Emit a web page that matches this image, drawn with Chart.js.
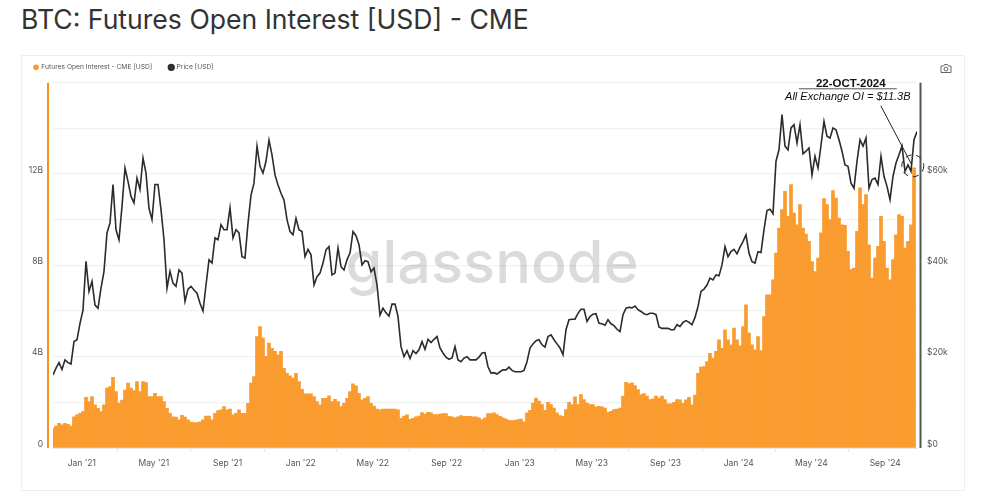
<!DOCTYPE html>
<html>
<head>
<meta charset="utf-8">
<title>BTC: Futures Open Interest [USD] - CME</title>
<script src="https://cdn.jsdelivr.net/npm/chart.js@4/dist/chart.umd.js"></script>
<style>
    html, body { margin: 0; padding: 0; background: #fff; }
    #page { position: relative; width: 984px; height: 500px; overflow: hidden; }
    #title { position: absolute; left: 21px; top: 3px; font: 400 26.6px Inter, sans-serif; color: #333; white-space: nowrap; }
    #card { position: absolute; left: 21px; top: 55px; width: 942px; height: 434px; border: 1px solid #eee; }
    #chart { position: absolute; left: 0; top: 0; }
    #camera { position: absolute; left: 940px; top: 63px; }
</style>
</head>
<body>
<div id="page">
    <div id="title">BTC: Futures Open Interest [USD] - CME</div>
    <div id="card"></div>
    <canvas id="chart" width="984" height="500"></canvas>
    <svg id="camera" width="12" height="11" viewBox="0 0 12 11" fill="none" stroke="#666" stroke-width="1">
        <path d="M1 3h2.5l1-1.5h3l1 1.5H11v6.5H1z"/>
        <circle cx="6" cy="6" r="2"/>
    </svg>
</div>
<script>
// one reading every 5 days, first one mid Nov 2020
const STEP_DAYS = 5;

// futures open interest, $B
const oiValues = [
    0.86, 0.96, 1.08, 1.01, 1.08, 1.04, 0.96, 1.37, 1.45, 1.52, 1.59, 2.22, 2.03, 2.25, 1.89, 1.74, 1.59, 1.89, 2.62, 2.69,
    3.1, 2.47, 1.96, 2.1, 2.54, 2.84, 2.62, 2.51, 2.91, 2.47, 2.91, 2.87, 2.25, 2.25, 2.4, 2.25, 2.25, 2.03, 1.74, 1.52,
    1.37, 1.35, 1.23, 1.43, 1.35, 1.23, 1.13, 1.11, 1.11, 1.15, 1.23, 1.4, 1.4, 1.23, 1.52, 1.64, 1.67, 1.81, 1.67, 1.7,
    1.45, 1.52, 1.67, 1.52, 1.52, 1.96, 2.84, 3.13, 4.88, 5.32, 4.81, 4.01, 4.59, 4.37, 4.23, 4.08, 4.23, 3.49, 3.27, 3.16,
    3.06, 3.27, 2.91, 2.57, 2.37, 2.37, 2.37, 2.25, 2.03, 1.89, 2.18, 2.18, 2.28, 2.03, 2.13, 2.03, 1.81, 1.96, 2.18, 2.47,
    2.81, 2.72, 2.4, 2.11, 2.18, 2.25, 1.96, 1.84, 1.7, 1.67, 1.7, 1.7, 1.7, 1.7, 1.7, 1.67, 1.3, 1.4, 1.45, 1.26,
    1.3, 1.37, 1.4, 1.55, 1.49, 1.56, 1.54, 1.46, 1.46, 1.49, 1.51, 1.51, 1.39, 1.36, 1.32, 1.36, 1.42, 1.39, 1.39, 1.39,
    1.36, 1.36, 1.32, 1.24, 1.32, 1.51, 1.51, 1.54, 1.46, 1.39, 1.32, 1.27, 1.21, 1.2, 1.21, 1.24, 1.27, 1.15, 1.54, 1.65,
    1.97, 2.19, 2.05, 1.9, 1.65, 2, 1.9, 1.75, 1.54, 1.42, 1.39, 1.68, 2, 1.9, 2.24, 1.9, 2.34, 2.12, 1.97, 1.9,
    1.9, 1.8, 1.83, 1.8, 1.75, 1.56, 1.61, 1.68, 1.71, 1.75, 2.27, 2.88, 2.82, 2.85, 2.73, 2.56, 2.34, 2.38, 2.27, 2.12,
    2.15, 2.27, 2.19, 2.27, 2.12, 1.94, 1.94, 2, 2.12, 2.11, 1.96, 2.11, 2.22, 1.89, 2.32, 3.27, 3.54, 3.57, 3.79, 4.15,
    3.93, 4.23, 4.74, 4.37, 5.18, 4.74, 4.52, 5.25, 4.74, 4.47, 5.32, 6.27, 5.03, 4.52, 4.3, 4.88, 4.27, 5.76, 6.71, 6.71,
    7.37, 8.54, 9.63, 10.44, 11.24, 10.15, 11.54, 10.29, 9.78, 10.66, 9.63, 9.37, 9.05, 8.17, 7.73, 8.32, 9.42, 10.92, 10.66, 10,
    11.27, 10.95, 10.07, 9.78, 9.75, 8.61, 7.81, 7.88, 9.49, 11.39, 10.66, 11.1, 8.9, 7.44, 8.32, 8.83, 10.15, 9.05, 7.88, 7.37,
    8.25, 9.34, 10.22, 10.15, 8.76, 9.05, 9.78, 12.27
];

// BTC price, $k
const priceValues = [
    16, 17.5, 18.7, 17.2, 19.3, 18.7, 18.4, 23.3, 23.7, 27.3, 30.2, 40.9, 34.3, 36.5, 31.3, 30.6, 35, 38.7, 47.1, 49.3,
    57.7, 47.8, 45.6, 52.9, 61.3, 58.4, 55.1, 53.7, 59.1, 56.6, 63.5, 60.2, 52.5, 50, 57.7, 57.7, 52.2, 45.6, 35, 38.7,
    36.1, 35.4, 39, 38.3, 32.1, 34.8, 35.4, 34.6, 33.9, 31.7, 30, 35.7, 41.2, 40.5, 46, 45.6, 48.9, 47.8, 47.8, 52.6,
    46, 47.8, 47.1, 41.9, 41.6, 49.2, 55.4, 58, 66.1, 61.7, 60.2, 62.8, 67.4, 64.2, 59.8, 57.6, 55.8, 54.3, 50, 47.4,
    46.7, 50.3, 47.8, 47.4, 41.9, 43.5, 42.3, 35.7, 37.5, 38.3, 40.5, 43.4, 44.1, 37.9, 38.3, 43.8, 39.7, 39, 41.2, 42.7,
    47.4, 46.5, 44.5, 40.1, 41, 40.8, 38.6, 39.4, 35.7, 29.1, 30.6, 29.6, 28.9, 31.5, 31.5, 28.8, 22.2, 20, 21.3, 19.6,
    21.3, 20.7, 21.5, 23.3, 21.6, 23.8, 23.1, 23.8, 24.4, 21.9, 20.8, 19.9, 19.4, 19.7, 22.2, 19.3, 18.9, 19.7, 20, 19.3,
    19.3, 19.3, 19.9, 20.8, 20.9, 17.8, 16.4, 16.5, 16.2, 16.7, 17.1, 17.1, 17.7, 17, 16.7, 16.7, 16.7, 17, 18.9, 21.9,
    22.8, 23.5, 23.7, 22.6, 22.1, 24.4, 24.8, 23.7, 22.8, 21.9, 20.4, 25.9, 28.1, 28.2, 28.2, 29.5, 30.4, 30.4, 27.7, 28.8,
    29.3, 29.4, 27.3, 27.2, 26.9, 28.1, 27.2, 26.8, 26, 25.5, 29.2, 30.6, 30.8, 30.7, 31.1, 30.3, 29.9, 29.4, 29.2, 29.5,
    29.5, 29.2, 26.5, 26.2, 26.2, 26.2, 25.9, 25.9, 27, 26.6, 27.5, 27.9, 27.5, 27, 28.6, 31, 34.3, 34.8, 35.7, 37.2,
    36.8, 37.9, 37.7, 40.1, 44.1, 41.9, 43, 43.5, 42.5, 44, 45.2, 46.7, 42.7, 40.8, 40.5, 43, 42.8, 47.8, 52, 52.3,
    51.3, 62.8, 65.3, 73, 66.1, 65.3, 70.1, 70.8, 66.8, 70.8, 64.4, 65, 65.7, 59.8, 63.9, 61.3, 66.3, 71.5, 68.3, 67.9,
    70.1, 69.7, 67.5, 65, 62, 61.7, 58, 56.9, 62.8, 67.5, 66.1, 67.9, 56.9, 58.8, 59.1, 57.7, 63.9, 59.5, 57.3, 54.4,
    59.5, 62.4, 64.2, 66.1, 60.6, 62, 60.6, 67.5, 69.3
];

// axis labels, days counted from the first reading
const tickDays = [48, 168, 291, 413, 533, 656, 778, 898, 1021, 1143, 1264, 1387];
const tickLabels = ["Jan '21", "May '21", "Sep '21", "Jan '22", "May '22", "Sep '22", "Jan '23", "May '23", "Sep '23", "Jan '24", "May '24", "Sep '24"];

const oiTicks = [0, 4, 8, 12];
const priceTicks = [0, 20, 40, 60];

const toPoints = values => values.map((v, i) => ({ x: i * STEP_DAYS, y: v }));

const tickFont = { family: "Inter, sans-serif", size: 8.5 };

// watermark behind the series, axis rules and the callout over them
const decorations = {
    id: "decorations",
    beforeInit(chart) {
        // a bit more room under the legend
        const fit = chart.legend.fit;
        chart.legend.fit = function () {
            fit.call(this);
            this.height += 2;
        };
    },
    beforeDatasetsDraw(chart) {
        const { ctx, chartArea } = chart;
        ctx.save();
        ctx.font = "500 59.5px Inter, sans-serif";
        ctx.fillStyle = "rgba(0,0,0,0.14)";
        ctx.textAlign = "center";
        ctx.textBaseline = "alphabetic";
        ctx.fillText("glassnode", 492, 283);
        ctx.lineWidth = 2;
        ctx.strokeStyle = "#f7931a";
        ctx.beginPath();
        ctx.moveTo(chartArea.left - 5, chartArea.top);
        ctx.lineTo(chartArea.left - 5, chartArea.bottom);
        ctx.stroke();
        ctx.strokeStyle = "#555";
        ctx.beginPath();
        ctx.moveTo(chartArea.right + 3.5, chartArea.top);
        ctx.lineTo(chartArea.right + 3.5, chartArea.bottom);
        ctx.stroke();
        ctx.restore();
    },
    afterDatasetsDraw(chart) {
        const { ctx, scales } = chart;
        const cx = scales.x.getPixelForValue(1433);
        const cy = scales.yPrice.getPixelForValue(61.8);
        ctx.save();
        ctx.strokeStyle = "#222";
        ctx.lineWidth = 1;
        ctx.setLineDash([6, 5]);
        ctx.beginPath();
        ctx.arc(cx, cy, 11, 0, Math.PI * 2);
        ctx.stroke();
        ctx.setLineDash([]);
        ctx.beginPath();
        ctx.moveTo(cx - 32, cy - 60);
        ctx.lineTo(cx - 1, cy - 1);
        ctx.stroke();
        ctx.strokeStyle = "#555";
        ctx.beginPath();
        ctx.moveTo(cx - 114, cy - 77);
        ctx.lineTo(cx - 16, cy - 77);
        ctx.stroke();
        ctx.fillStyle = "#111";
        ctx.textAlign = "center";
        ctx.textBaseline = "middle";
        ctx.font = "bold 11.5px 'Liberation Sans', sans-serif";
        ctx.fillText("22-OCT-2024", cx - 62, cy - 82);
        ctx.font = "italic 11px 'Liberation Sans', sans-serif";
        ctx.fillText("All Exchange OI = $11.3B", cx - 65, cy - 69);
        ctx.restore();
    }
};

new Chart(document.getElementById("chart"), {
    type: "bar",
    data: {
        datasets: [
            {
                label: "Futures Open Interest - CME [USD]",
                data: toPoints(oiValues),
                yAxisID: "yOi",
                backgroundColor: "#f99b2d",
                borderWidth: 0,
                barPercentage: 1,
                categoryPercentage: 1,
                pointStyle: "circle",
                order: 2
            },
            {
                type: "line",
                label: "Price [USD]",
                data: toPoints(priceValues),
                yAxisID: "yPrice",
                borderColor: "#2b2b2b",
                backgroundColor: "#333",
                borderWidth: 1.6,
                pointRadius: 0,
                tension: 0,
                pointStyle: "circle",
                order: 1
            }
        ]
    },
    options: {
        responsive: false,
        animation: false,
        layout: { padding: { top: 47, left: 17, right: 20, bottom: 20 } },
        plugins: {
            legend: {
                position: "top",
                align: "start",
                labels: {
                    usePointStyle: true,
                    boxWidth: 4,
                    boxHeight: 4,
                    padding: 17,
                    color: "#555",
                    font: { family: "Inter, sans-serif", size: 6.7 },
                    sort: (a, b) => a.datasetIndex - b.datasetIndex
                }
            },
            tooltip: { enabled: false }
        },
        scales: {
            x: {
                type: "linear",
                offset: false,
                min: 0,
                max: (priceValues.length - 1) * STEP_DAYS,
                grid: { drawOnChartArea: false, tickLength: 4, color: "#e6e6e6" },
                border: { color: "#e6e6e6" },
                ticks: {
                    autoSkip: false,
                    maxRotation: 0,
                    padding: 6,
                    color: "#555",
                    font: tickFont,
                    callback: value => tickLabels[tickDays.indexOf(value)]
                },
                afterBuildTicks(scale) { scale.ticks = tickDays.map(d => ({ value: d })); },
                afterFit(scale) { scale.height = 32; }
            },
            yOi: {
                position: "left",
                min: 0,
                max: 16,
                grid: { color: "#f1f1f1", lineWidth: 1.2, drawTicks: false },
                border: { display: false },
                ticks: {
                    stepSize: 2,
                    padding: 10,
                    labelOffset: -4,
                    color: "#555",
                    font: tickFont,
                    callback: value => oiTicks.includes(value) ? (value === 0 ? "0" : value + "B") : ""
                },
                afterFit(scale) { scale.width = 36; }
            },
            yPrice: {
                position: "right",
                min: 0,
                max: 80,
                grid: { display: false, drawTicks: false },
                border: { display: false },
                ticks: {
                    stepSize: 20,
                    padding: 10,
                    labelOffset: -4,
                    color: "#555",
                    font: tickFont,
                    callback: value => priceTicks.includes(value) ? (value === 0 ? "$0" : "$" + value + "k") : ""
                },
                afterFit(scale) { scale.width = 47; }
            }
        }
    },
    plugins: [decorations]
});
</script>
</body>
</html>
